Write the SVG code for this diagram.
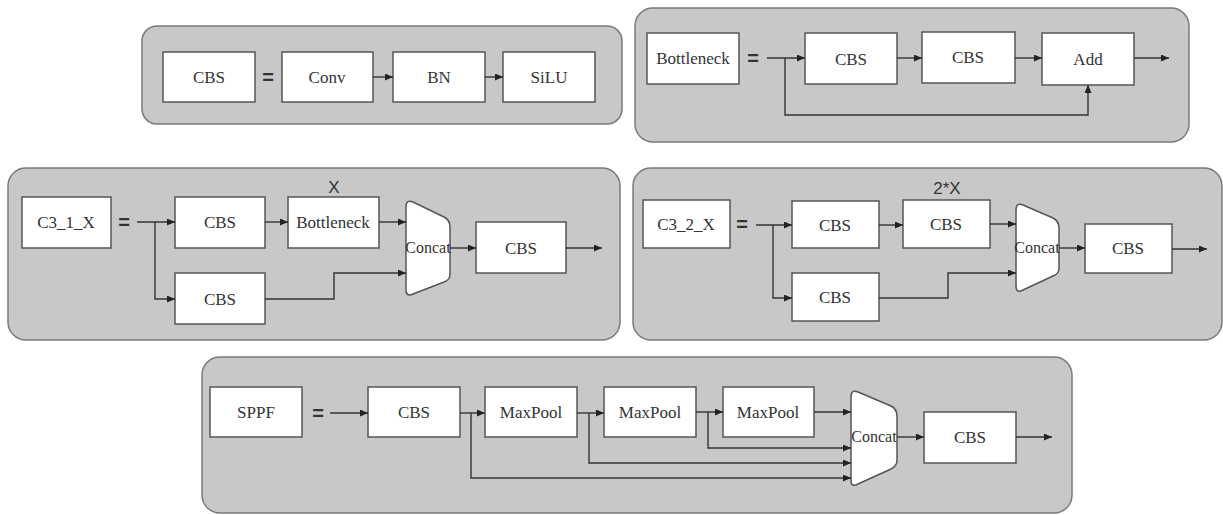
<svg xmlns="http://www.w3.org/2000/svg" width="1223" height="515" viewBox="0 0 1223 515">
<style>
.panel{fill:#c8c8c8;stroke:#7a7a7a;stroke-width:1.5}
.box{fill:#ffffff;stroke:#555555;stroke-width:1.5}
.cc{fill:#ffffff;stroke:#555555;stroke-width:1.5}
.t{font-family:"Liberation Serif","Times New Roman",serif;font-size:17px;fill:#333333;text-anchor:middle}
.ct{font-family:"Liberation Serif","Times New Roman",serif;font-size:16px;fill:#333333;text-anchor:middle}
.eq{font-family:"Liberation Sans",Arial,sans-serif;font-size:20px;font-weight:bold;fill:#333333;text-anchor:middle}
.lbl{font-family:"Liberation Sans",Arial,sans-serif;font-size:17px;fill:#333333;text-anchor:middle}
.c{fill:none;stroke:#333333;stroke-width:1.4}
.a{marker-end:url(#ah)}
</style>
<defs>
<marker id="ah" markerUnits="userSpaceOnUse" markerWidth="9" markerHeight="8" refX="8" refY="3.5" orient="auto">
<path d="M0,0 L8,3.5 L0,7 z" fill="#222222"/>
</marker>
</defs>
<g id="panels">
<rect class="panel" x="142" y="26" width="480" height="98" rx="15"/>
<rect class="panel" x="635" y="8" width="554" height="134" rx="18"/>
<rect class="panel" x="8" y="168" width="612" height="172" rx="18"/>
<rect class="panel" x="633" y="168" width="589" height="172" rx="18"/>
<rect class="panel" x="202" y="357" width="870" height="156" rx="18"/>
</g>
<g id="cbs-def">
<rect class="box" x="163" y="52" width="92" height="50"/><text class="t" x="209" y="83">CBS</text>
<text class="eq" x="268" y="84">=</text>
</g>
<g id="conv"><rect class="box" x="282" y="52" width="91" height="50"/><text class="t" x="327" y="83">Conv</text></g>
<g id="bn"><rect class="box" x="393" y="52" width="92" height="50"/><text class="t" x="439" y="83">BN</text></g>
<g id="silu"><rect class="box" x="503" y="52" width="92" height="50"/><text class="t" x="549" y="83">SiLU</text></g>

<g id="bottleneck-def">
<rect class="box" x="647" y="33" width="92" height="51"/><text class="t" x="693" y="64">Bottleneck</text>
<text class="eq" x="753" y="65">=</text>
</g>
<g id="bn-cbs1"><rect class="box" x="805" y="33" width="92" height="51"/><text class="t" x="851" y="65">CBS</text></g>
<g id="bn-cbs2"><rect class="box" x="922" y="32" width="93" height="51"/><text class="t" x="968" y="63">CBS</text></g>
<g id="add"><rect class="box" x="1042" y="33" width="92" height="52"/><text class="t" x="1088" y="65">Add</text></g>

<g id="c31-def">
<rect class="box" x="22" y="197" width="89" height="51"/><text class="t" x="66" y="228">C3_1_X</text>
<text class="eq" x="124" y="229">=</text>
</g>
<g id="c31-cbs1"><rect class="box" x="175" y="197" width="90" height="51"/><text class="t" x="220" y="228">CBS</text></g>
<g id="c31-bneck"><rect class="box" x="288" y="197" width="91" height="51"/><text class="t" x="333" y="228">Bottleneck</text>
<text class="lbl" x="334" y="193">X</text></g>
<g id="c31-cbs2"><rect class="box" x="175" y="273" width="90" height="51"/><text class="t" x="220" y="305">CBS</text></g>
<g id="c31-concat"><path class="cc" d="M406,207 Q406,199 413,202 L444,217 Q450,220 450,227 L450,274 Q450,280 444,282 L413,294 Q406,297 406,290 Z"/><text class="ct" x="428" y="253">Concat</text></g>
<g id="c31-cbs3"><rect class="box" x="476" y="222" width="90" height="51"/><text class="t" x="521" y="254">CBS</text></g>

<g id="c32-def">
<rect class="box" x="643" y="200" width="87" height="48"/><text class="t" x="686" y="230">C3_2_X</text>
<text class="eq" x="742" y="231">=</text>
</g>
<g id="c32-cbs1"><rect class="box" x="792" y="201" width="87" height="47"/><text class="t" x="835" y="231">CBS</text></g>
<g id="c32-cbs2"><rect class="box" x="903" y="200" width="87" height="48"/><text class="t" x="946" y="230">CBS</text>
<text class="lbl" x="947" y="194">2*X</text></g>
<g id="c32-cbs3"><rect class="box" x="792" y="273" width="87" height="48"/><text class="t" x="835" y="303">CBS</text></g>
<g id="c32-concat"><path class="cc" d="M1016,210 Q1016,202 1023,205 L1053,218 Q1059,221 1059,228 L1059,268 Q1059,274 1053,276 L1023,290 Q1016,294 1016,286 Z"/><text class="ct" x="1037" y="253">Concat</text></g>
<g id="c32-cbs4"><rect class="box" x="1085" y="224" width="87" height="49"/><text class="t" x="1128" y="254">CBS</text></g>

<g id="sppf-def">
<rect class="box" x="210" y="387" width="92" height="50"/><text class="t" x="256" y="418">SPPF</text>
<text class="eq" x="318" y="420">=</text>
</g>
<g id="sppf-cbs1"><rect class="box" x="368" y="387" width="92" height="50"/><text class="t" x="414" y="418">CBS</text></g>
<g id="maxpool1"><rect class="box" x="485" y="387" width="92" height="50"/><text class="t" x="531" y="418">MaxPool</text></g>
<g id="maxpool2"><rect class="box" x="604" y="387" width="92" height="50"/><text class="t" x="650" y="418">MaxPool</text></g>
<g id="maxpool3"><rect class="box" x="723" y="387" width="91" height="50"/><text class="t" x="768" y="418">MaxPool</text></g>
<g id="sppf-concat"><path class="cc" d="M851,397 Q851,389 858,392 L891,406 Q897,409 897,416 L897,460 Q897,466 891,469 L858,484 Q851,488 851,480 Z"/><text class="ct" x="874" y="442">Concat</text></g>
<g id="sppf-cbs2"><rect class="box" x="924" y="412" width="92" height="51"/><text class="t" x="970" y="443">CBS</text></g>

<g id="connectors">
<path class="c a" d="M373,77 H393"/>
<path class="c a" d="M485,77 H503"/>

<path class="c a" d="M767,58 H805"/>
<path class="c a" d="M785,58 V115 H1088 V85"/>
<path class="c a" d="M897,58 H922"/>
<path class="c a" d="M1015,58 H1042"/>
<path class="c a" d="M1134,58 H1169"/>

<path class="c a" d="M137,222 H175"/>
<path class="c a" d="M155,222 V299 H175"/>
<path class="c a" d="M265,222 H288"/>
<path class="c a" d="M379,222 H406"/>
<path class="c a" d="M265,299 H334 V273 H406"/>
<path class="c a" d="M450,248 H476"/>
<path class="c a" d="M566,248 H602"/>

<path class="c a" d="M756,225 H792"/>
<path class="c a" d="M773,225 V298 H792"/>
<path class="c a" d="M879,225 H903"/>
<path class="c a" d="M990,224 H1016"/>
<path class="c a" d="M879,298 H948 V273 H1016"/>
<path class="c a" d="M1059,248 H1085"/>
<path class="c a" d="M1172,249 H1207"/>

<path class="c a" d="M330,413 H368"/>
<path class="c a" d="M460,413 H485"/>
<path class="c a" d="M471,413 V478 H851"/>
<path class="c a" d="M577,413 H604"/>
<path class="c a" d="M589,413 V463 H851"/>
<path class="c a" d="M696,412 H723"/>
<path class="c a" d="M708,412 V448 H851"/>
<path class="c a" d="M814,412 H851"/>
<path class="c a" d="M897,437 H924"/>
<path class="c a" d="M1016,437 H1052"/>
</g>
</svg>
